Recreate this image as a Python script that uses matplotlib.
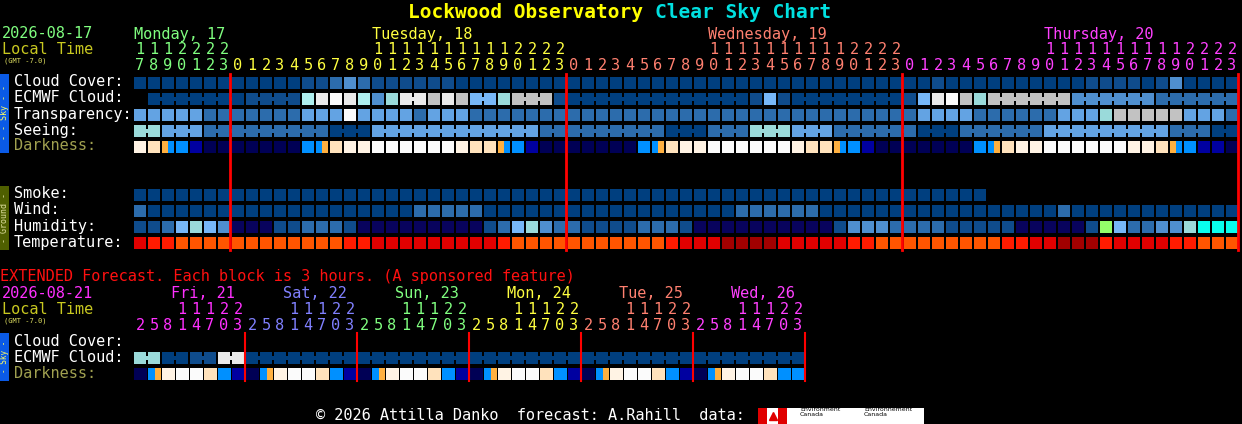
"""
Clear Sky Chart replica for Lockwood Observatory
"""

import matplotlib
matplotlib.use("Agg")
import matplotlib.pyplot as plt
from matplotlib.patches import Rectangle

# ---- data (one code letter per hourly block) ----
start_hour = 17
day_names = ["Monday, 17", "Tuesday, 18", "Wednesday, 19", "Thursday, 20"]
day_colors = ["#80ff80", "#ffff40", "#ff8070", "#ff40ff"]

cloud_cover  = "DDDDDDDDDDDDddMLMddddddDD" + "D" * 32 + "d" + "D" * 10 + "ddddDdLDDDD"
ecmwf_cloud  = " DDDDDDDddddCeWeCLceegegppcgggd" + "D" * 13 + "dpd" + "D" * 8 + "dpeWgc" + "gggggg" + "LLLLLL" + "MMMMMM"
transparency = "lllllMMMMMMMlllWllllMlll" + "M" * 32 + "llllMMMMMMlllcggggglllM"
seeing       = "cclllMMMMMMMMMDDD" + "l" * 12 + "MMMMMMMMMDDDMMMccclllMMMMMMDDDMMMMMMlllllllllMMMDD"
darkness     = "qPzbBNNNNNNNbyPqqWWWWWWqP" + "PzbBNNNNNNNbyPqqWWWWWWqPP" + "zbBNNNNNNNbyPqqWWWWWWqqPzbBBN"
smoke        = "D" * 61
wind         = "M" + "D" * 19 + "MMMMM" + "D" * 18 + "MMMMMM" + "D" * 17 + "M" + "D" * 12
humidity     = "ddMpcpLnnnddMMMd" + "n" * 9 + "dMpcLMMddddMMMd" + "n" * 10 + "dLLLMMMMddddd" + "nnnnn" + "dGpMMLLcTTT"
temperature  = "Rrr" + "O" * 12 + "rr" + "R" * 9 + "r" + "O" * 11 + "rRRRXXXXRRRRRrr" + "O" * 9 + "rrRRXXXrRRRRrrOOO"

# extended forecast (3 hour blocks)
ext_date = "2026-08-21"
ext_days = ["Fri, 21", "Sat, 22", "Sun, 23", "Mon, 24", "Tue, 25", "Wed, 26"]
ext_colors = ["#ff30ff", "#8080ff", "#80ff80", "#ffff40", "#ff8070", "#ff40ff"]
ext_hours = [2, 5, 8, 11, 14, 17, 20, 23]
ext_ecmwf = "ccDDddee" + "D" * 40
ext_dark = "NyqWWPbB" * 5 + "NyqWWPbb"

palette = {
    "D": "#003f7f", "d": "#0f4c8c", "M": "#2c6cac", "L": "#4f8fcf",
    "l": "#63a3e3", "p": "#77b7f7", "c": "#9adada", "C": "#aeeeee",
    "g": "#c2c2c2", "e": "#eaeaea", "W": "#fbfbfb",
    "N": "#000055", "B": "#0000a0", "b": "#0090ff", "o": "#ffb040",
    "P": "#ffe2bc", "q": "#fff3e4",
    "n": "#08035d", "G": "#94fe6a", "T": "#09feed",
    "R": "#e10000", "r": "#ff1b00", "O": "#ff5500", "X": "#a10000",
}
# twilight blocks split in two colours
split = {"y": ("#0090ff", "#ffb040"), "z": ("#ffb040", "#0090ff")}

# ---- layout in pixels ----
X0, STEP, CELL = 134, 14, 12
sky_rows = [("Cloud Cover:", cloud_cover, 77, "white", False),
            ("ECMWF Cloud:", ecmwf_cloud, 93, "white", True),
            ("Transparency:", transparency, 109, "white", False),
            ("Seeing:", seeing, 125, "white", True),
            ("Darkness:", darkness, 141, "#a0a050", False)]
ground_rows = [("Smoke:", smoke, 189), ("Wind:", wind, 205),
               ("Humidity:", humidity, 221), ("Temperature:", temperature, 237)]

MONO = "DejaVu Sans Mono"
FS = 11

fig = plt.figure(figsize=(12.42, 4.24), dpi=100, facecolor="black")
ax = fig.add_axes([0, 0, 1, 1])
ax.set_xlim(0, 1242)
ax.set_ylim(424, 0)
ax.axis("off")
ax.set_facecolor("black")


def txt(x, y, s, color, size=FS, **kw):
    ax.text(x, y, s, color=color, fontsize=size, family=MONO, va="center", **kw)


def draw_row(codes, top, bridge=False, width=CELL):
    for i, ch in enumerate(codes):
        if ch == " ":
            continue
        x = X0 + i * STEP
        if ch in split:
            c1, c2 = split[ch]
            ax.add_patch(Rectangle((x, top), width / 2, CELL, color=c1, lw=0))
            ax.add_patch(Rectangle((x + width / 2, top), width / 2, CELL, color=c2, lw=0))
            continue
        ax.add_patch(Rectangle((x, top), width, CELL, color=palette[ch], lw=0))
        if bridge and i + 1 < len(codes) and codes[i + 1] == ch:
            ax.add_patch(Rectangle((x + width, top + 4), STEP - width, 4, color=palette[ch], lw=0))


# title
ax.text(655, 12, "Lockwood Observatory ", color="#ffff00", fontsize=14, family=MONO,
        weight="bold", ha="right", va="center")
ax.text(655, 12, "Clear Sky Chart", color="#00e0e0", fontsize=14, family=MONO,
        weight="bold", ha="left", va="center")

# header
txt(2, 34, "2026-08-17", "#80ff80")
txt(2, 50, "Local Time", "#c8c820")
txt(4, 61, "(GMT -7.0)", "#e0e060", size=5)

ncols = len(cloud_cover)
for i in range(ncols):
    h = (start_hour + i) % 24
    day = (start_hour + i) // 24
    col = day_colors[day]
    cx = X0 + i * STEP + 6
    if h >= 10:
        txt(cx, 50, str(h // 10), col, ha="center")
    txt(cx, 65, str(h % 10), col, ha="center")
    if i == 0 or h == 10:
        txt(X0 + i * STEP, 34, day_names[day], col)

# rows
for label, codes, top, lc, br in sky_rows:
    txt(14, top + 5, label, lc)
    draw_row(codes, top, br)
for label, codes, top in ground_rows:
    txt(14, top + 5, label, "white")
    draw_row(codes, top)

# side bars
ax.add_patch(Rectangle((0, 74), 9, 79, color="#0a5ae6", lw=0))
ax.text(4.5, 113, "- - Sky - -", color="#ffff60", fontsize=6, family=MONO,
        rotation=90, ha="center", va="center")
ax.add_patch(Rectangle((0, 186), 9, 64, color="#4f5f00", lw=0))
ax.text(4.5, 218, "- Ground -", color="#e0e0a0", fontsize=6, family=MONO,
        rotation=90, ha="center", va="center")

# midnight lines
for d in range(4):
    x = X0 + (24 - start_hour + 24 * d) * STEP - 2
    ax.plot([x, x], [74, 250], color="red", lw=2)

# extended forecast
txt(0, 276, "EXTENDED Forecast. Each block is 3 hours. (A sponsored feature)", "#ff1010")
txt(2, 294, ext_date, "#ff30ff")
txt(2, 310, "Local Time", "#c8c820")
txt(4, 321, "(GMT -7.0)", "#e0e060", size=5)
for d, (name, col) in enumerate(zip(ext_days, ext_colors)):
    txt(X0 + d * 8 * STEP + 37, 294, name, col)
    for k, h in enumerate(ext_hours):
        cx = X0 + (d * 8 + k) * STEP + 6
        if h >= 10:
            txt(cx, 310, str(h // 10), col, ha="center")
        txt(cx, 325, str(h % 10), col, ha="center")

txt(14, 341, "Cloud Cover:", "white")
txt(14, 357, "ECMWF Cloud:", "white")
txt(14, 373, "Darkness:", "#a0a050")
draw_row(ext_ecmwf, 352, bridge=True)
draw_row(ext_dark, 368, width=13)
ax.add_patch(Rectangle((0, 333), 9, 48, color="#0a5ae6", lw=0))
ax.text(4.5, 357, "- Sky -", color="#ffff60", fontsize=5.5, family=MONO,
        rotation=90, ha="center", va="center")
for d in range(6):
    x = X0 + (d + 1) * 8 * STEP - 1
    ax.plot([x, x], [333, 381], color="red", lw=1.5)

# footer
txt(316, 415, "\u00a9 2026 Attilla Danko  forecast: A.Rahill  data:", "white")
ax.add_patch(Rectangle((758, 408), 166, 16, color="white", lw=0))
ax.add_patch(Rectangle((758, 408), 9, 16, color="#e00000", lw=0))
ax.add_patch(Rectangle((778, 408), 9, 16, color="#e00000", lw=0))
ax.plot([772.5], [416], marker="^", color="#e00000", ms=6)
ax.text(800, 412, "Environment\nCanada", color="black", fontsize=4.5, va="center", linespacing=0.9)
ax.text(864, 412, "Environnement\nCanada", color="black", fontsize=4.5, va="center", linespacing=0.9)

fig.savefig("out.png", dpi=100, facecolor="black")
